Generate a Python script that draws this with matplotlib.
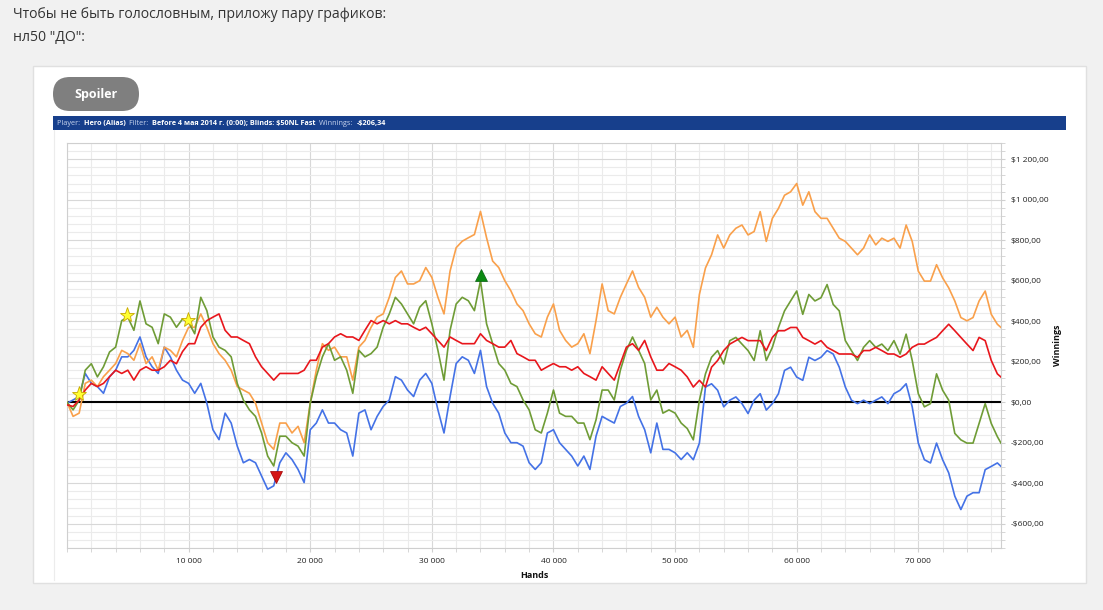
import numpy as np
import matplotlib
matplotlib.use("Agg")
import matplotlib.pyplot as plt
from matplotlib.patches import Rectangle, FancyBboxPatch
from matplotlib.ticker import MultipleLocator

plt.rcParams['font.family'] = ['Open Sans', 'DejaVu Sans']

# hands axis, one reading every 500 hands plus the last hand
hands = list(np.arange(0, 76501, 500)) + [76800]

orange = [0, -70, -54, 93, 109, 77, 126, 158, 191, 256, 240, 207, 289, 191, 224, 158, 272, 256, 224, 305,
          370, 370, 436, 370, 289, 240, 207, 158, 77, 60, 44, -5, -103, -200, -233, -103, -103, -152, -119, -200,
          -5, 158, 289, 256, 272, 224, 224, 109, 272, 305, 370, 420,
          436, 518, 616, 648, 584, 584, 600, 665, 616, 518, 436, 648, 763, 795, 812, 828, 942, 812, 697, 665,
          600, 550, 485, 452, 387, 338, 322, 420, 485, 355, 305, 272, 289, 338, 240, 403, 584, 452, 436, 518,
          584, 648, 567, 518, 420, 469, 420, 387, 420, 322, 355,
          271, 532, 663, 728, 826, 761, 826, 859, 875, 826, 843, 941, 794, 908, 957, 1022, 1039, 1080, 973, 1039,
          941, 908, 908, 859, 810, 794, 761, 728, 761, 826, 777, 810, 794, 810, 761, 875, 794, 647, 598, 598,
          679, 614, 565, 500, 418, 402, 418, 500, 549, 434, 385, 369]

green = [0, -38, 10, 158, 190, 125, 175, 248, 272, 403, 420, 355, 500, 387, 370, 289, 436, 420, 370, 411,
         395, 338, 518, 452, 322, 272, 256, 224, 93, 11, -38, -70, -152, -266, -315, -168, -168, -200, -217, -266,
         -5, 126, 224, 289, 207, 224, 158, 44, 256, 224, 240, 272,
         370, 436, 518, 485, 436, 387, 469, 501, 387, 256, 109, 355, 485, 518, 501, 452, 600, 387, 289, 191,
         158, 93, 77, 11, -38, -136, -152, -54, 60, -54, -70, -70, -103, -103, -185, -87, 60, 60, 11, 158,
         256, 322, 256, 191, 11, 60, -54, -38, -54, -103, -130,
         -186, 10, 140, 222, 255, 189, 304, 320, 287, 255, 206, 353, 206, 271, 369, 451, 500, 549, 434, 532,
         500, 516, 581, 483, 451, 304, 255, 206, 271, 304, 271, 287, 255, 304, 238, 336, 206, 42, -23, -7,
         140, 59, 10, -154, -186, -202, -202, -105, -7, -105, -170, -202]

red = [-13, -21, 11, 60, 93, 77, 93, 126, 158, 142, 158, 109, 158, 175, 158, 158, 175, 207, 190, 250,
       289, 289, 370, 403, 420, 436, 355, 322, 322, 305, 289, 224, 175, 142, 109, 142, 142, 142, 142, 158,
       207, 207, 272, 289, 322, 338, 322, 322, 305, 355, 403, 387,
       403, 387, 403, 387, 387, 370, 355, 370, 338, 305, 272, 322, 305, 289, 289, 289, 338, 305, 289, 272,
       272, 305, 240, 224, 207, 207, 158, 175, 191, 175, 175, 158, 175, 142, 126, 109, 175, 142, 109, 191,
       272, 289, 256, 305, 224, 158, 158, 191, 175, 158, 125,
       75, 108, 75, 173, 206, 255, 287, 304, 320, 304, 304, 304, 255, 320, 353, 353, 369, 369, 320, 304,
       287, 304, 271, 255, 238, 238, 238, 222, 255, 255, 271, 255, 238, 238, 222, 238, 271, 287, 287, 304,
       320, 353, 385, 353, 320, 287, 255, 320, 304, 206, 140, 124]

blue = [-5, 11, 28, 142, 93, 77, 44, 126, 158, 224, 224, 256, 322, 224, 175, 142, 272, 224, 158, 109,
        93, 44, 93, -5, -136, -185, -54, -103, -217, -299, -283, -299, -364, -430, -413, -299, -250, -283, -332, -397,
        -136, -103, -38, -103, -103, -136, -152, -266, -54, -38, -136, -70,
        -21, 11, 126, 109, 60, 28, 109, 142, 93, -38, -152, 28, 191, 224, 207, 142, 256, 77, -5, -54,
        -152, -200, -200, -217, -299, -332, -299, -152, -136, -200, -233, -266, -315, -266, -332, -168, -70, -87, -103, -21,
        -5, 28, -70, -136, -250, -103, -233, -233, -250, -283, -250,
        -284, -202, 75, 91, 59, -23, 10, 26, -7, -56, 10, 42, -39, -7, 42, 157, 173, 124, 108, 222,
        206, 222, 255, 238, 173, 75, 10, -7, 10, -7, 10, 26, -7, 42, 59, 91, -23, -202, -284, -300,
        -202, -284, -349, -464, -530, -464, -447, -447, -333, -317, -300, -317]

star_h = [960, 4900, 9970]
star_v = [41, 433, 408]
low_h, low_v = [17150], [-367]
high_h, high_v = [34080], [629]

xticks = [10000, 20000, 30000, 40000, 50000, 60000, 70000]
xlabels = ['10 000', '20 000', '30 000', '40 000', '50 000', '60 000', '70 000']
yticks = [-600, -400, -200, 0, 200, 400, 600, 800, 1000, 1200]
ylabels = ['-$600,00', '-$400,00', '-$200,00', '$0,00', '$200,00', '$400,00',
           '$600,00', '$800,00', '$1 000,00', '$1 200,00']

W, H = 1103, 610
fig = plt.figure(figsize=(W / 100, H / 100), dpi=100, facecolor='#f1f1f1')

# page decoration in pixel coordinates
bg = fig.add_axes([0, 0, 1, 1])
bg.set_xlim(0, W)
bg.set_ylim(H, 0)
bg.axis('off')
bg.text(13, 15, 'Чтобы не быть голословным, приложу пару графиков:', fontsize=10.1,
        color='#333333', va='center', ha='left')
bg.text(13, 37, 'нл50 "ДО":', fontsize=10.1, color='#333333', va='center', ha='left')
bg.add_patch(Rectangle((33, 66), 1053, 517, fc='white', ec='#e0e0e0', lw=1))
bg.add_patch(FancyBboxPatch((53, 77), 86, 34, boxstyle='round,pad=0,rounding_size=17',
                            fc='#7f7f7f', ec='none'))
bg.text(96, 94.5, 'Spoiler', fontsize=9, fontweight='bold', color='white', ha='center', va='center')
bg.add_patch(Rectangle((53, 116), 1013, 14, fc='#173f8c', ec='none'))
bg.plot([54, 54], [130, 580], color='#ececec', lw=0.8)

# header text, mixed weights
parts = [('Player:  ', 'normal', '#c9d5ee'), ('Hero (Alias)  ', 'bold', 'white'),
         ('Filter:  ', 'normal', '#c9d5ee'),
         ('Before 4 мая 2014 г. (0:00); Blinds: $50NL Fast  ', 'bold', 'white'),
         ('Winnings:  ', 'normal', '#c9d5ee'), ('-$206,34', 'bold', 'white')]
renderer = fig.canvas.get_renderer()
xpos = 57
for txt, wt, col in parts:
    t = bg.text(xpos, 123.5, txt, fontsize=5.2, fontweight=wt, color=col, ha='left', va='center')
    bb = t.get_window_extent(renderer)
    xpos += bb.width

bg.text(1058, 345, 'Winnings', rotation=90, fontsize=6.5, fontweight='bold',
        ha='center', va='center', color='#111111')
bg.text(534, 575, 'Hands', fontsize=6.5, fontweight='bold', ha='center', va='center', color='#111111')

# chart
ax = fig.add_axes([67 / W, 1 - 548 / H, (1001 - 67) / W, (548 - 143) / H])
ax.set_xlim(0, 76800)
ax.set_ylim(-720, 1280)
ax.xaxis.set_minor_locator(MultipleLocator(2000))
ax.yaxis.set_minor_locator(MultipleLocator(40))
ax.set_xticks(xticks)
ax.set_xticklabels(xlabels)
ax.set_yticks(yticks)
ax.set_yticklabels(ylabels)
ax.yaxis.tick_right()
ax.grid(which='minor', color='#ebebeb', lw=0.8)
ax.grid(which='major', color='#d8d8d8', lw=0.8)
ax.set_axisbelow(True)
ax.tick_params(which='both', length=3, color='#d0d0d0', labelsize=6, labelcolor='#222222')
ax.tick_params(axis='x', pad=4)
ax.tick_params(axis='y', pad=4)
for s in ax.spines.values():
    s.set_color('#cfcfcf')
    s.set_linewidth(0.8)

ax.axhline(0, color='black', lw=1.5, zorder=2)
ax.plot(hands, blue, color='#4472e6', lw=1.2, zorder=3)
ax.plot(hands, orange, color='#f9a04b', lw=1.2, zorder=3)
ax.plot(hands, green, color='#6f9c36', lw=1.2, zorder=3)
ax.plot(hands, red, color='#e8161c', lw=1.2, zorder=3)

ax.plot(star_h, star_v, ls='none', marker='*', ms=11, mfc='#ffff33', mec='#c8a800', mew=0.6, zorder=5)
ax.plot(low_h, low_v, ls='none', marker='v', ms=8, mfc='#d41515', mec='#a00000', mew=0.5, zorder=5)
ax.plot(high_h, high_v, ls='none', marker='^', ms=8, mfc='#0b8a12', mec='#066010', mew=0.5, zorder=5)

fig.savefig('out.png', dpi=100, facecolor=fig.get_facecolor())
